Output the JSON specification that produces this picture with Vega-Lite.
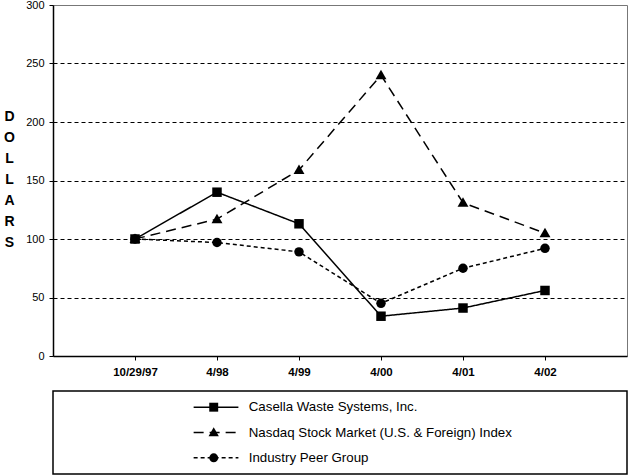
{
  "$schema": "https://vega.github.io/schema/vega-lite/v6.json",
  "padding": {"left": 3, "top": -2, "right": 0, "bottom": 0},
  "background": "white",
  "config": {
    "font": "Liberation Sans",
    "view": {"stroke": "#777", "strokeWidth": 1}
  },
  "datasets": {
    "perf": [
      {"date": "10/29/97", "series": "Casella Waste Systems, Inc.", "value": 100},
      {"date": "4/98", "series": "Casella Waste Systems, Inc.", "value": 140},
      {"date": "4/99", "series": "Casella Waste Systems, Inc.", "value": 113},
      {"date": "4/00", "series": "Casella Waste Systems, Inc.", "value": 34},
      {"date": "4/01", "series": "Casella Waste Systems, Inc.", "value": 41},
      {"date": "4/02", "series": "Casella Waste Systems, Inc.", "value": 56},
      {"date": "10/29/97", "series": "Nasdaq Stock Market (U.S. & Foreign) Index", "value": 100},
      {"date": "4/98", "series": "Nasdaq Stock Market (U.S. & Foreign) Index", "value": 117},
      {"date": "4/99", "series": "Nasdaq Stock Market (U.S. & Foreign) Index", "value": 159},
      {"date": "4/00", "series": "Nasdaq Stock Market (U.S. & Foreign) Index", "value": 240},
      {"date": "4/01", "series": "Nasdaq Stock Market (U.S. & Foreign) Index", "value": 131},
      {"date": "4/02", "series": "Nasdaq Stock Market (U.S. & Foreign) Index", "value": 105},
      {"date": "10/29/97", "series": "Industry Peer Group", "value": 100},
      {"date": "4/98", "series": "Industry Peer Group", "value": 97},
      {"date": "4/99", "series": "Industry Peer Group", "value": 89},
      {"date": "4/00", "series": "Industry Peer Group", "value": 45},
      {"date": "4/01", "series": "Industry Peer Group", "value": 75},
      {"date": "4/02", "series": "Industry Peer Group", "value": 92}
    ],
    "series": [
      {"series": "Casella Waste Systems, Inc."},
      {"series": "Nasdaq Stock Market (U.S. & Foreign) Index"},
      {"series": "Industry Peer Group"}
    ]
  },
  "bounds": "flush",
  "spacing": 35,
  "vconcat": [
    {
      "width": 574,
      "height": 351,
      "data": {"name": "perf"},
      "encoding": {
        "x": {
          "field": "date",
          "type": "ordinal",
          "sort": ["10/29/97", "4/98", "4/99", "4/00", "4/01", "4/02"],
          "scale": {"type": "point", "padding": 1},
          "axis": {
            "title": null,
            "labelAngle": 0,
            "labelFontSize": 11.5,
            "labelFontWeight": "bold",
            "labelColor": "black",
            "labelPadding": 6,
            "tickSize": 4,
            "tickColor": "black",
            "domainColor": "black",
            "domainWidth": 1.5,
            "grid": false
          }
        },
        "y": {
          "field": "value",
          "type": "quantitative",
          "scale": {"domain": [0, 300], "nice": false},
          "axis": {
            "values": [0, 50, 100, 150, 200, 250, 300],
            "grid": true,
            "gridColor": "black",
            "gridWidth": 1,
            "gridDash": [4, 3],
            "gridOpacity": {"condition": {"test": "datum.value === 300 || datum.value === 0", "value": 0}, "value": 1},
            "domainColor": "black",
            "domainWidth": 1.5,
            "tickColor": "black",
            "tickSize": 4,
            "labelFontSize": 11,
            "labelColor": "black",
            "labelPadding": 5,
            "title": ["D", "O", "L", "L", "A", "R", "S"],
            "titleAngle": 0,
            "titleFontSize": 14,
            "titleFontWeight": "bold",
            "titleColor": "black",
            "titleLineHeight": 21,
            "titleAlign": "center",
            "titleBaseline": "middle",
            "titleX": -44,
            "titleY": 111.5
          }
        }
      },
      "layer": [
        {
          "mark": {"type": "line", "color": "black", "strokeWidth": 1.5},
          "encoding": {
            "strokeDash": {
              "field": "series",
              "type": "nominal",
              "scale": {
                "domain": ["Casella Waste Systems, Inc.", "Nasdaq Stock Market (U.S. & Foreign) Index", "Industry Peer Group"],
                "range": [[1, 0], [10, 6], [4, 3]]
              },
              "legend": null
            }
          }
        },
        {
          "mark": {"type": "point", "filled": true, "color": "black", "opacity": 1, "size": 90},
          "encoding": {
            "shape": {
              "field": "series",
              "type": "nominal",
              "scale": {
                "domain": ["Casella Waste Systems, Inc.", "Nasdaq Stock Market (U.S. & Foreign) Index", "Industry Peer Group"],
                "range": ["square", "M0,-1.15L1.15,0.85L-1.15,0.85Z", "circle"]
              },
              "legend": null
            }
          }
        }
      ]
    },
    {
      "width": 574,
      "height": 83,
      "data": {"name": "series"},
      "view": {"stroke": "black", "strokeWidth": 1.5},
      "encoding": {
        "y": {
          "field": "series",
          "type": "nominal",
          "scale": {
            "type": "point",
            "padding": 0.64,
            "domain": ["Casella Waste Systems, Inc.", "Nasdaq Stock Market (U.S. & Foreign) Index", "Industry Peer Group"]
          },
          "axis": null
        }
      },
      "layer": [
        {
          "mark": {"type": "rule", "color": "black", "strokeWidth": 1.5},
          "encoding": {
            "x": {"datum": 0.245, "type": "quantitative", "scale": {"domain": [0, 1]}, "axis": null},
            "x2": {"datum": 0.323},
            "strokeDash": {
              "field": "series",
              "type": "nominal",
              "scale": {
                "domain": ["Casella Waste Systems, Inc.", "Nasdaq Stock Market (U.S. & Foreign) Index", "Industry Peer Group"],
                "range": [[1, 0], [13, 13], [3, 3]]
              },
              "legend": null
            }
          }
        },
        {
          "mark": {"type": "point", "filled": true, "color": "black", "opacity": 1, "size": 80},
          "encoding": {
            "x": {"datum": 0.28, "type": "quantitative"},
            "shape": {
              "field": "series",
              "type": "nominal",
              "scale": {
                "domain": ["Casella Waste Systems, Inc.", "Nasdaq Stock Market (U.S. & Foreign) Index", "Industry Peer Group"],
                "range": ["square", "M0,-1.15L1.15,0.85L-1.15,0.85Z", "circle"]
              },
              "legend": null
            }
          }
        },
        {
          "mark": {"type": "text", "align": "left", "baseline": "middle", "fontSize": 13.3, "color": "black"},
          "encoding": {
            "x": {"datum": 0.341, "type": "quantitative"},
            "text": {"field": "series", "type": "nominal"}
          }
        }
      ]
    }
  ]
}
